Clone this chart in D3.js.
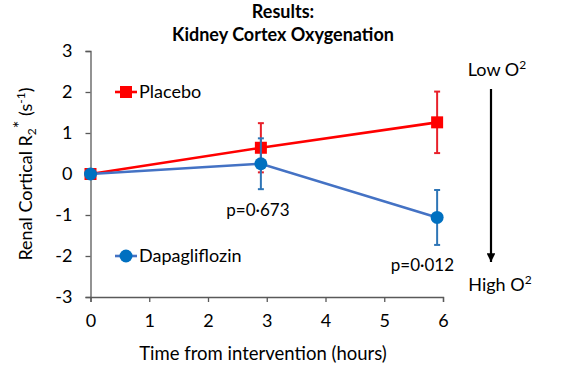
<!DOCTYPE html>
<html><head><meta charset="utf-8">
<script src="https://cdn.jsdelivr.net/npm/d3@7"></script>
<style>body{margin:0;background:#fff}svg{display:block}text{font-family:Lato,"Open Sans",sans-serif}</style>
</head><body><svg id="c" width="567" height="372"></svg>
<script>
const hours = [0, 2.9, 5.9];
const placebo = [0, 0.64, 1.26];
const placeboErr = [0, 0.6, 0.75];
const dapa = [0, 0.25, -1.06];
const dapaErr = [0, 0.62, 0.67];
const xTicks = [0,1,2,3,4,5,6];
const yTicks = [-3,-2,-1,0,1,2,3];
const pLabels = [{x:2.85, y:-0.87, t:"p=0·673"},{x:5.65, y:-2.22, t:"p=0·012"}];

const svg = d3.select("#c");
const x = d3.scaleLinear().domain([0,6]).range([90.5,443]);
const y = d3.scaleLinear().domain([-3,3]).range([297,51]);
const axisCol = "#595959";
const fmt = d => String(d);

// axes
const gx = svg.append("g").attr("transform",`translate(0,${y(-3)})`)
  .call(d3.axisBottom(x).tickValues(xTicks).tickFormat(fmt).tickSize(5).tickPadding(12));
const gy = svg.append("g").attr("transform",`translate(${x(0)},0)`)
  .call(d3.axisLeft(y).tickValues(yTicks).tickFormat(fmt).tickSize(5).tickPadding(13));
[gx,gy].forEach(g=>{
  g.select(".domain").attr("stroke",axisCol).attr("stroke-width",1.3);
  g.selectAll(".tick line").attr("stroke",axisCol).attr("stroke-width",1.3);
  g.selectAll(".tick text").attr("fill","#000").attr("font-size",18).attr("font-family","Lato,'Open Sans',sans-serif");
});

const line = d3.line().x((d,i)=>x(hours[i])).y(d=>y(d));
function series(vals, errs, lineCol, markCol, errCol, shape){
  svg.append("path").datum(vals).attr("d",line).attr("fill","none")
    .attr("stroke",lineCol).attr("stroke-width",2.6);
  vals.forEach((v,i)=>{
    if(errs[i]>0){
      const cx=x(hours[i]);
      svg.append("line").attr("x1",cx).attr("x2",cx).attr("y1",y(v+errs[i])).attr("y2",y(v-errs[i]))
        .attr("stroke",errCol).attr("stroke-width",2);
      [v+errs[i],v-errs[i]].forEach(e=>svg.append("line").attr("x1",cx-3).attr("x2",cx+3)
        .attr("y1",y(e)).attr("y2",y(e)).attr("stroke",errCol).attr("stroke-width",2));
    }
  });
  vals.forEach((v,i)=>{
    const cx=x(hours[i]), cy=y(v);
    if(shape==="sq") svg.append("rect").attr("x",cx-6).attr("y",cy-6).attr("width",12).attr("height",12).attr("fill",markCol);
    else svg.append("circle").attr("cx",cx).attr("cy",cy).attr("r",6.5).attr("fill",markCol);
  });
}
series(placebo, placeboErr, "#FF0000", "#FF0000", "#E8202A", "sq");
series(dapa, dapaErr, "#4472C4", "#0070C0", "#2E75B6", "ci");

// legend
function legend(val, col, mcol, shape, label){
  const ly=y(val);
  svg.append("line").attr("x1",115).attr("x2",137).attr("y1",ly).attr("y2",ly).attr("stroke",col).attr("stroke-width",2.6);
  if(shape==="sq") svg.append("rect").attr("x",120).attr("y",ly-6).attr("width",12).attr("height",12).attr("fill",mcol);
  else svg.append("circle").attr("cx",126).attr("cy",ly).attr("r",6.5).attr("fill",mcol);
  svg.append("text").attr("x",139).attr("y",ly).attr("dy","0.35em").attr("font-size",18).text(label);
}
legend(2, "#FF0000", "#FF0000", "sq", "Placebo");
legend(-2, "#4472C4", "#0070C0", "ci", "Dapagliflozin");

// p labels
pLabels.forEach(p=>svg.append("text").attr("x",x(p.x)).attr("y",y(p.y)).attr("text-anchor","middle")
  .attr("dy","0.35em").attr("font-size",17).text(p.t));

// title
svg.append("text").attr("x",283).attr("y",18).attr("text-anchor","middle").attr("font-size",18).attr("font-weight","bold").text("Results:");
svg.append("text").attr("x",283).attr("y",41).attr("text-anchor","middle").attr("font-size",18).attr("font-weight","bold").text("Kidney Cortex Oxygenation");

// axis titles
svg.append("text").attr("x",263).attr("y",360).attr("text-anchor","middle").attr("font-size",18.5).text("Time from intervention (hours)");
const yl = svg.append("text").attr("transform",`translate(32,${y(0)}) rotate(-90)`).attr("text-anchor","middle").attr("font-size",18);
yl.append("tspan").text("Renal Cortical R");
yl.append("tspan").attr("font-size",12).attr("dy",4).text("2");
yl.append("tspan").attr("dy",-10).text("*");
yl.append("tspan").attr("dy",6).text(" (s");
yl.append("tspan").attr("font-size",12).attr("dy",-7).text("-1");
yl.append("tspan").attr("dy",7).text(")");

// arrow
svg.append("defs").append("marker").attr("id","ah").attr("viewBox","0 0 10 10").attr("refX",10).attr("refY",5)
  .attr("markerWidth",4).attr("markerHeight",4).attr("orient","auto")
  .append("path").attr("d","M0,0L10,5L0,10z").attr("fill","#000");
svg.append("line").attr("x1",491).attr("x2",491).attr("y1",89).attr("y2",262).attr("stroke","#000").attr("stroke-width",2.2).attr("marker-end","url(#ah)");
function o2(tx, ty, word){
  const t = svg.append("text").attr("x",tx).attr("y",ty).attr("text-anchor","middle").attr("font-size",18);
  t.append("tspan").text(word+" O");
  t.append("tspan").attr("font-size",12).attr("dy",-7).text("2");
}
o2(497, 76, "Low");
o2(500, 291, "High");
</script></body></html>
